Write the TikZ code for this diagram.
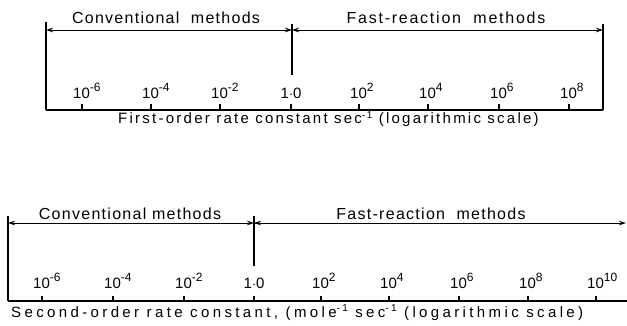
\documentclass[tikz,border=0pt]{standalone}
\usepackage{fontspec}
\setmainfont{Liberation Sans}
\newfontfamily\lblfont[LetterSpace=8]{Liberation Sans}
\newfontfamily\lblwidefont[LetterSpace=11]{Liberation Sans}
\newfontfamily\capAfont[LetterSpace=15]{Liberation Sans}
\newfontfamily\capBfont[LetterSpace=22.5]{Liberation Sans}
\newcommand\tenpow[1]{10\raisebox{7pt}{\fontsize{12}{12}\selectfont #1}}
\newcommand\supsmall[1]{\raisebox{5.5pt}{\fontsize{10}{10}\selectfont #1}}
\usetikzlibrary{arrows.meta,calc}
\begin{document}
\begin{tikzpicture}[x=1pt,y=-1pt,
  frameline/.style={line width=1.4pt},
  axisline/.style={line width=2pt},
  spanarrow/.style={line width=0.9pt,{Stealth[length=7pt,width=4.5pt]}-{Stealth[length=7pt,width=4.5pt]}},
  tickmark/.style={line width=1.1pt},
  ticklbl/.style={anchor=base west,inner sep=0pt,font=\fontsize{15}{15}\selectfont},
  titletext/.style={anchor=base,inner sep=0pt,font=\lblfont\fontsize{16}{16}\selectfont},
  captext/.style={anchor=base west,inner sep=0pt,font=\fontsize{15}{15}\selectfont}]
\useasboundingbox (0,0) rectangle (627,326);
% ---------- top scale ----------
\coordinate (tL) at (46,22);
\coordinate (tLb) at (46,110);
\coordinate (tR) at (603,24);
\coordinate (tRb) at (603,110);
\coordinate (tM) at (292,24);
\coordinate (tMb) at (292,75);
\coordinate (taL) at (46,30);
\coordinate (taM) at (292,30);
\coordinate (taR) at (603,30);
\draw[frameline] (tL) -- (tLb);
\draw[frameline] (tR) -- (tRb);
\draw[frameline] (tM) -- (tMb);
\draw[axisline] (tLb) -- (tRb);
\draw[spanarrow] (taL) -- (taM);
\draw[spanarrow] (taM) -- (taR);
\node[titletext] (tconv) at (166,24) {Conventional\ \ methods};
\node[titletext] (tfast) at (446,24) {\lblwidefont Fast-reaction\ \ methods};
\foreach \x/\e [count=\i] in {82/-6,151/-4,220/-2,359/2,428/4,499/6,569/8}{
  \coordinate (tt\i) at (\x,104);
  \coordinate (ttb\i) at (\x,110);
  \draw[tickmark] (tt\i) -- (ttb\i);
  \node[ticklbl] (tl\i) at (\x-9,99) {\tenpow{\e}};
}
\coordinate (tone) at (291,104);
\coordinate (toneb) at (291,110);
\draw[tickmark] (tone) -- (toneb);
\node[anchor=base,inner sep=0pt,font=\fontsize{15}{15}\selectfont] (tonel) at (291,99) {1$\cdot$0};
\node[captext] (tcap) at (118,124) {\capAfont First-order rate constant sec\supsmall{-1} (logarithmic scale)};
% ---------- bottom scale ----------
\coordinate (bL) at (8,216);
\coordinate (bLb) at (8,301);
\coordinate (bM) at (254,216);
\coordinate (bMb) at (254,266);
\coordinate (bRb) at (627,301);
\coordinate (baL) at (8,223);
\coordinate (baM) at (254,223);
\coordinate (baR) at (626,223);
\coordinate (baM2) at (274,223);
\draw[frameline] (bL) -- (bLb);
\draw[frameline] (bM) -- (bMb);
\draw[axisline] (bLb) -- (bRb);
\draw[spanarrow] (baL) -- (baM);
\draw[line width=0.9pt,-{Stealth[length=7pt,width=4.5pt]}] (baM) -- (baR);
\draw[line width=0.9pt,{Stealth[length=7pt,width=4.5pt]}-] (baM) -- (baM2);
\node[titletext] (bconv) at (130,219) {Conventional methods};
\node[titletext] (bfast) at (431,219) {Fast-reaction\ \ methods};
\foreach \x/\e [count=\i] in {42/-6,113/-4,184/-2,321/2,389/4,459/6,528/8,596/10}{
  \coordinate (bt\i) at (\x,296);
  \coordinate (btb\i) at (\x,301);
  \draw[tickmark] (bt\i) -- (btb\i);
  \node[ticklbl] (bl\i) at (\x-9,288) {\tenpow{\e}};
}
\coordinate (bone) at (254,296);
\coordinate (boneb) at (254,301);
\draw[tickmark] (bone) -- (boneb);
\node[anchor=base,inner sep=0pt,font=\fontsize{15}{15}\selectfont] (bonel) at (254,288) {1$\cdot$0};
\node[captext] (bcap) at (11,317) {\capBfont Second-order rate constant, (mole\supsmall{-1} sec\supsmall{-1} (logarithmic scale)};
\end{tikzpicture}
\end{document}
